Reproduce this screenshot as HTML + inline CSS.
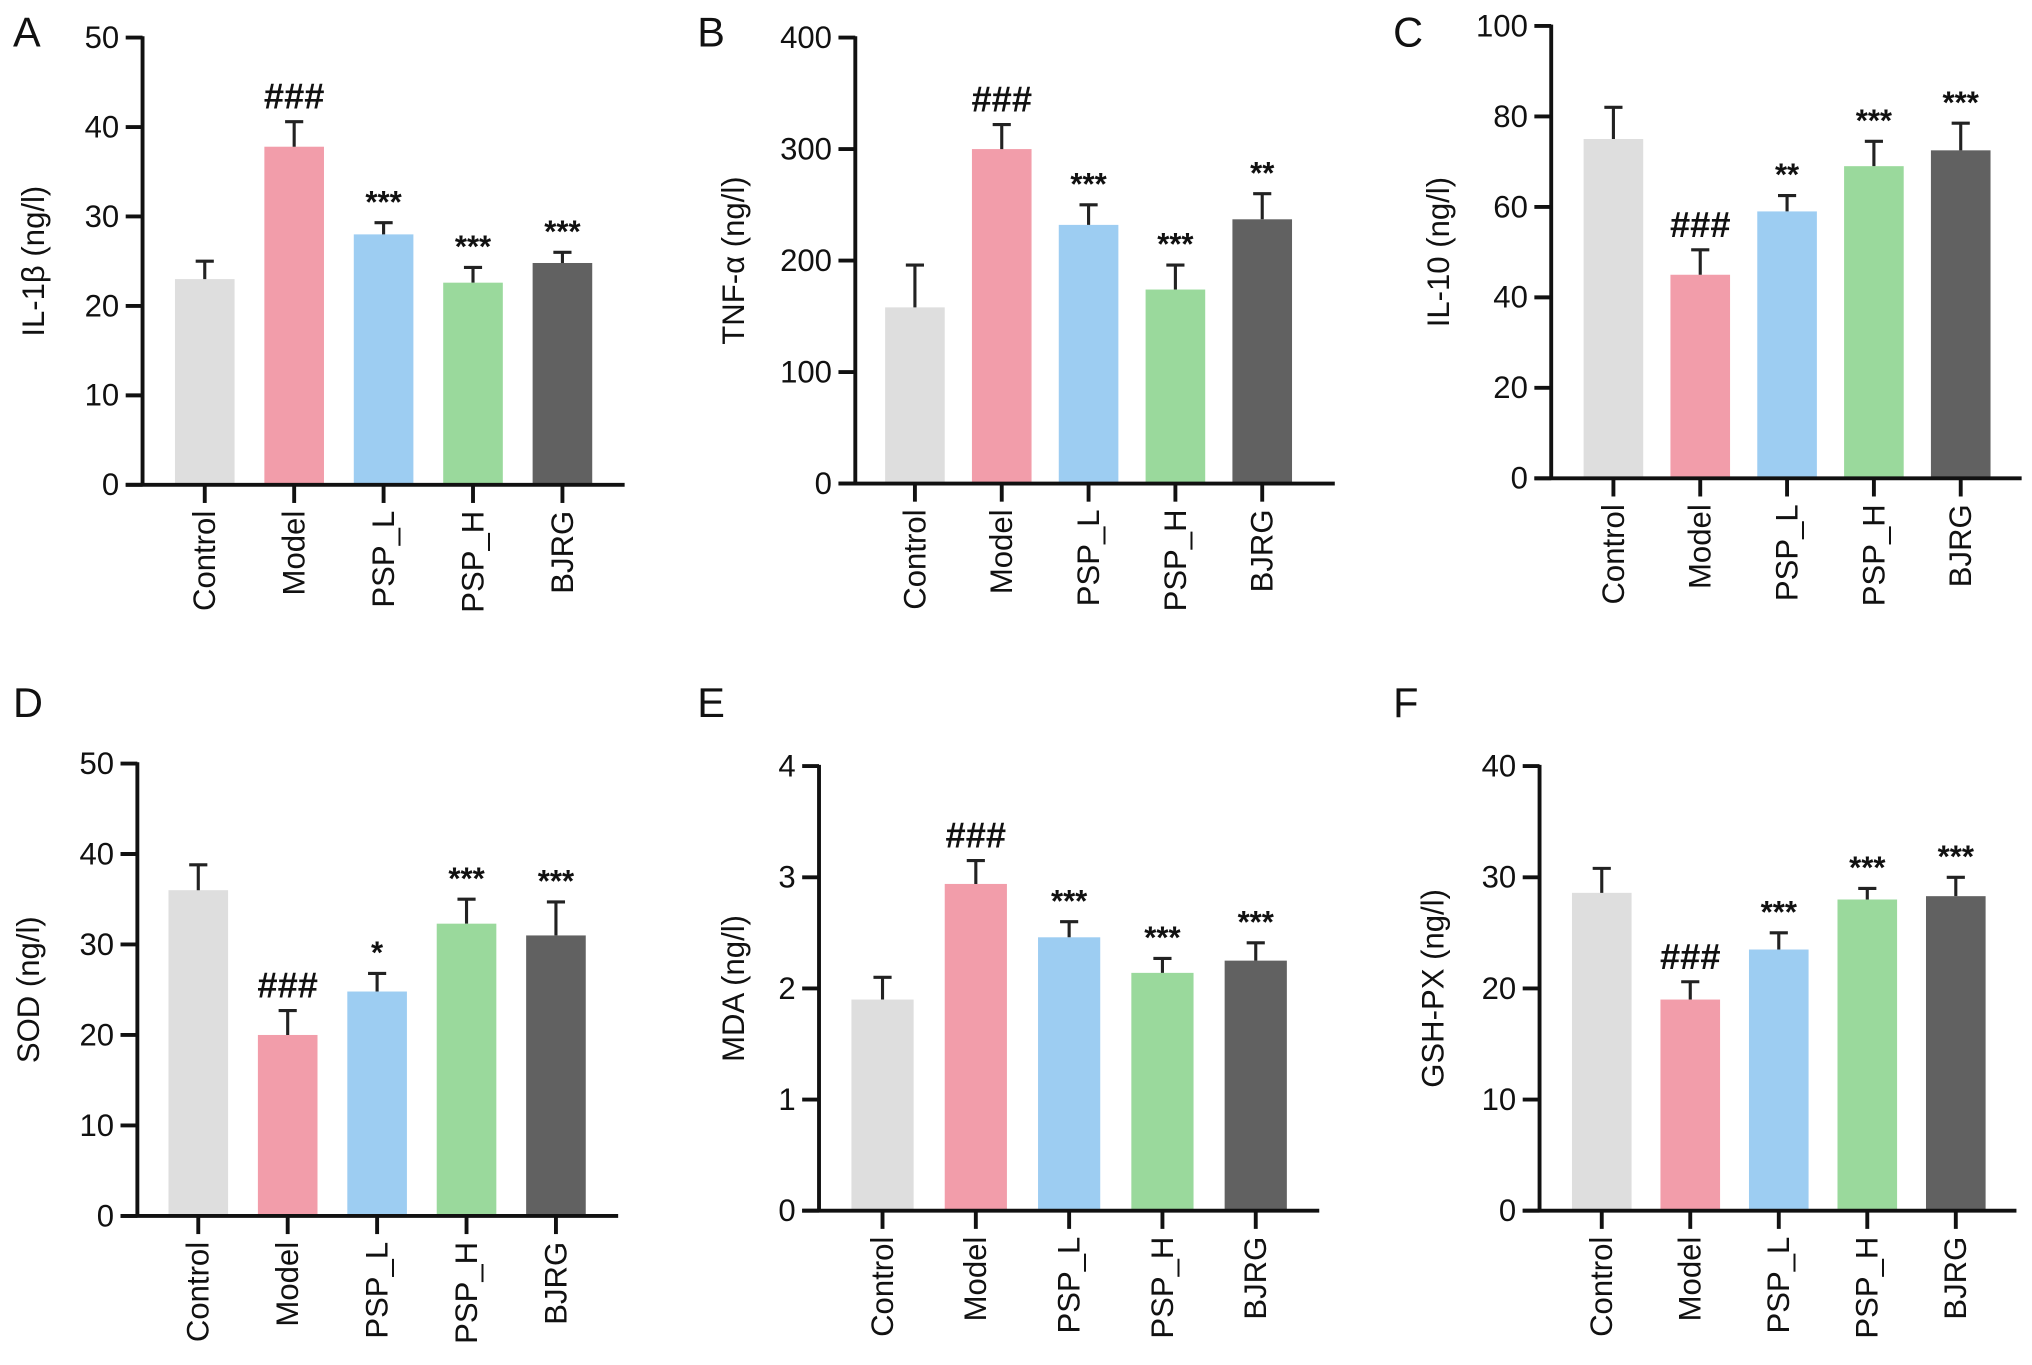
<!DOCTYPE html>
<html><head><meta charset="utf-8"><style>
html,body{margin:0;padding:0;background:#fff}
svg{display:block}
text{font-family:"Liberation Sans",Arial,sans-serif;fill:#111}
</style></head><body>
<svg id="fig" width="2032" height="1365" viewBox="0 0 1568 1053" preserveAspectRatio="none" xmlns="http://www.w3.org/2000/svg"></svg>
<script>
const categories = ["Control","Model","PSP_L","PSP_H","BJRG"];
const colors = ["#dedede","#f29daa","#9dcdf2","#9ad99c","#616161"];
const valuesA = [23, 37.8, 28, 22.6, 24.8];
const errA = [25, 40.6, 29.3, 24.3, 26];
const sigA = ["", "###", "***", "***", "***"];
const valuesB = [158, 300, 232, 174, 237];
const errB = [196, 322, 250, 196, 260];
const sigB = ["", "###", "***", "***", "**"];
const valuesC = [75, 45, 59, 69, 72.5];
const errC = [82, 50.5, 62.5, 74.5, 78.5];
const sigC = ["", "###", "**", "***", "***"];
const valuesD = [36, 20, 24.8, 32.3, 31];
const errD = [38.8, 22.7, 26.8, 35, 34.7];
const sigD = ["", "###", "*", "***", "***"];
const valuesE = [1.9, 2.94, 2.46, 2.14, 2.25];
const errE = [2.1, 3.15, 2.6, 2.27, 2.41];
const sigE = ["", "###", "***", "***", "***"];
const valuesF = [28.6, 19, 23.5, 28, 28.3];
const errF = [30.8, 20.6, 25, 29, 30];
const sigF = ["", "###", "***", "***", "***"];
const ticksA = [0,10,20,30,40,50];
const ticksB = [0,100,200,300,400];
const ticksC = [0,20,40,60,80,100];
const ticksD = [0,10,20,30,40,50];
const ticksE = [0,1,2,3,4];
const ticksF = [0,10,20,30,40];

const NS="http://www.w3.org/2000/svg";
const svg=document.getElementById('fig');
function mk(tag,attrs,parent,txt){const e=document.createElementNS(NS,tag);for(const k in attrs)e.setAttribute(k,attrs[k]);if(txt!==undefined)e.textContent=txt;(parent||svg).appendChild(e);return e;}

const panels=[
 {id:"a",letter:"A",lx:10,ly:36,ax:110,y0:374,yt:29,c0:158,step:69,xe:482,bw:46,ticks:ticksA,vals:valuesA,errs:errA,sig:sigA,label:"IL-1β (ng/l)",labx:34},
 {id:"b",letter:"B",lx:538,ly:36,ax:660,y0:373,yt:29,c0:706,step:67,xe:1030,bw:46,ticks:ticksB,vals:valuesB,errs:errB,sig:sigB,label:"TNF-α (ng/l)",labx:574},
 {id:"c",letter:"C",lx:1075,ly:36,ax:1197,y0:369,yt:20,c0:1245,step:67,xe:1560,bw:46,ticks:ticksC,vals:valuesC,errs:errC,sig:sigC,label:"IL-10 (ng/l)",labx:1118},
 {id:"d",letter:"D",lx:10,ly:553,ax:106,y0:938,yt:589,c0:153,step:69,xe:477,bw:46,ticks:ticksD,vals:valuesD,errs:errD,sig:sigD,label:"SOD (ng/l)",labx:30},
 {id:"e",letter:"E",lx:538,ly:553,ax:632,y0:934,yt:591,c0:681,step:72,xe:1018,bw:48,ticks:ticksE,vals:valuesE,errs:errE,sig:sigE,label:"MDA (ng/l)",labx:574},
 {id:"f",letter:"F",lx:1075,ly:553,ax:1188,y0:934,yt:591,c0:1236,step:68.3,xe:1556,bw:46,ticks:ticksF,vals:valuesF,errs:errF,sig:sigF,label:"GSH-PX (ng/l)",labx:1114}
];

panels.forEach(p=>{
  const g=mk('g',{});
  
  
  const ymax=p.ticks[p.ticks.length-1];
  const Y=v=>p.y0-(v/ymax)*(p.y0-p.yt);
  const X=i=>p.c0+i*p.step;
  const L=mk('text',{x:p.lx,y:p.ly,'font-size':32},g,p.letter);
  
  
  p.vals.forEach((v,i)=>{
    const r=mk('rect',{x:X(i)-p.bw/2,y:Y(v),width:p.bw,height:p.y0-Y(v),fill:colors[i]},g);
    
    
    const e=mk('path',{d:`M${X(i)} ${Y(v)}V${Y(p.errs[i])}M${X(i)-7} ${Y(p.errs[i])}H${X(i)+7}`,stroke:'#222','stroke-width':2.4,fill:'none'},g);
    
    
    if(p.sig[i]){
      const big=p.sig[i][0]==='#';
      const s=mk('text',{x:X(i),y:Y(p.errs[i])-(big?10:8),'text-anchor':'middle','font-size':big?28:24,'font-weight':'bold'},g,p.sig[i]);
      
      
    }
    const t=mk('path',{d:`M${X(i)} ${p.y0}V${p.y0+14}`,stroke:'#111','stroke-width':3},g);
    
    
    const cl=mk('text',{x:0,y:0,'text-anchor':'end','font-size':24,transform:`translate(${X(i)+8},${p.y0+20}) rotate(-90)`},g,categories[i]);
    
    
  });
  const ya=mk('path',{d:`M${p.ax} ${p.yt-1}V${p.y0}`,stroke:'#111','stroke-width':3,fill:'none'},g);
  
  
  const xa=mk('path',{d:`M${p.ax-13} ${p.y0}H${p.xe}`,stroke:'#111','stroke-width':3,fill:'none'},g);
  
  
  p.ticks.forEach(t=>{
    const tk=mk('path',{d:`M${p.ax-13} ${Y(t)}H${p.ax}`,stroke:'#111','stroke-width':3},g);
    
    
    const tl=mk('text',{x:p.ax-18,y:Y(t)+8,'text-anchor':'end','font-size':24},g,String(t));
    
    
  });
  const yl=mk('text',{x:0,y:0,'text-anchor':'middle','font-size':24,transform:`translate(${p.labx},${(p.y0+p.yt)/2}) rotate(-90)`},g,p.label);
  
  
});
</script>
</body></html>
